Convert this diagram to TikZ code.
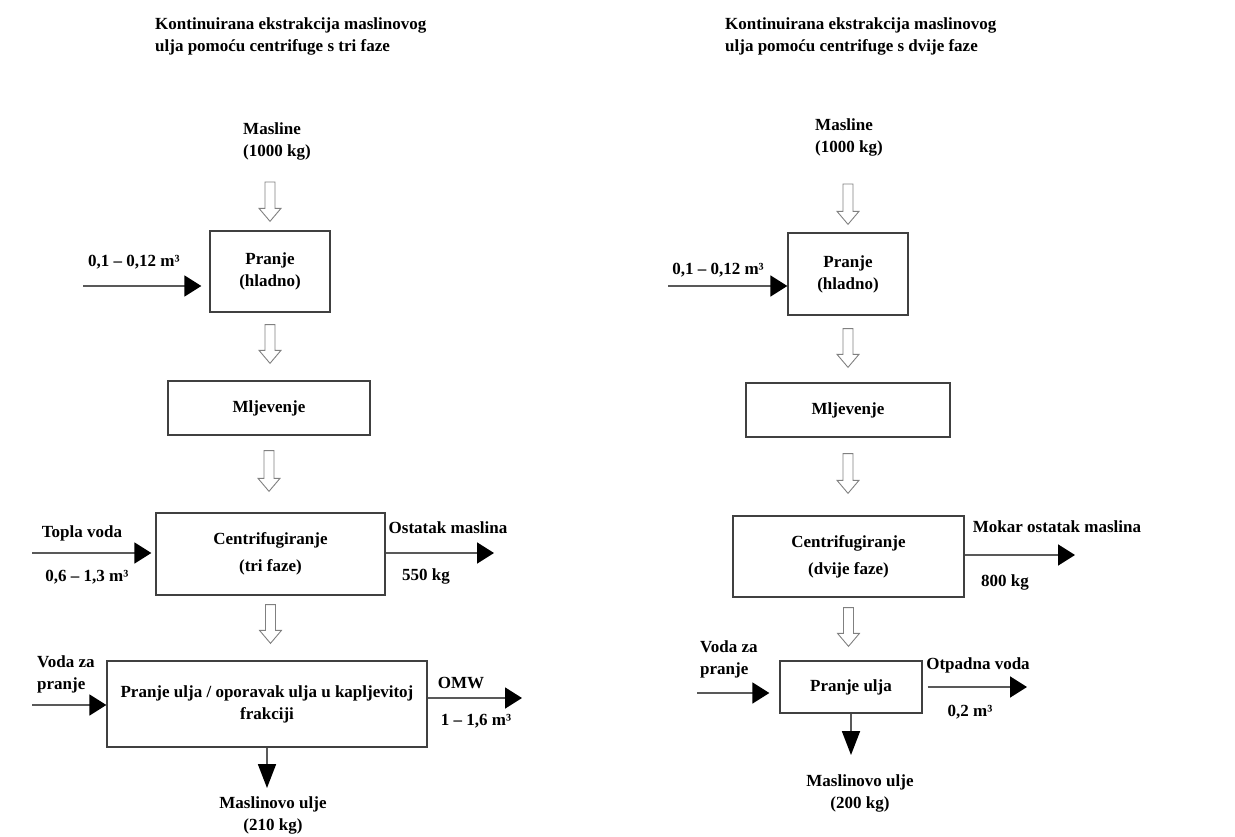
\documentclass[tikz,border=0pt]{standalone}
\usepackage{fontspec}
\setmainfont{Liberation Serif}
\usetikzlibrary{arrows.meta,calc}

\begin{document}
\begin{tikzpicture}[x=1pt,y=-1pt,
    every node/.style={font=\fontsize{17}{22}\selectfont\bfseries, inner sep=0pt},
    box/.style={draw=black!75, line width=1.3pt, align=center},
    flow/.style={draw=black!65, line width=1.8pt, -{Triangle[length=17pt,width=21pt,black]}},
    flowdown/.style={draw=black!65, line width=1.8pt, -{Triangle[length=24pt,width=18pt,black]}},
    hollow/.style={draw=black!50, line width=0.9pt, fill=white,
      to path={($(\tikztostart)+(-5,0)$) -- ($(\tikztotarget)+(-5,-13)$) -- ($(\tikztotarget)+(-11,-13)$)
        -- (\tikztotarget) -- ($(\tikztotarget)+(11,-13)$) -- ($(\tikztotarget)+(5,-13)$) -- ($(\tikztostart)+(5,0)$) -- cycle}}]
  \useasboundingbox (0,0) rectangle (1235,837);

  % three phase (left)
  \node[anchor=west, align=left] (titL) at (155,36) {Kontinuirana ekstrakcija maslinovog\\ulja pomoću centrifuge s tri faze};
  \node[anchor=west, align=left] (masL) at (243,141) {Masline\\(1000 kg)};
  \node[box, minimum width=120pt, minimum height=81pt] (praL) at (270,271.5) {Pranje\\(hladno)};
  \node[box, minimum width=202pt, minimum height=54pt] (mljL) at (269,408) {Mljevenje};
  \node[box, minimum width=229pt, minimum height=82pt] (cenL) at (270.5,554) {Centrifugiranje\\[5pt](tri faze)};
  \node[box, minimum width=320pt, minimum height=86pt] (uljL) at (267,704) {Pranje ulja / oporavak ulja u kapljevitoj\\frakciji};

  \node (vodL) at (134,262) {0,1 – 0,12 m³};
  \node (topla) at (82,533) {Topla voda};
  \node (toplaQ) at (87,577) {0,6 – 1,3 m³};
  \node (ostL) at (448,528) {Ostatak maslina};
  \node (ostQ) at (426,576) {550 kg};
  \node[anchor=west, align=left] (pranjeL) at (37,674) {Voda za\\pranje};
  \node (omw) at (461,683) {OMW};
  \node (omwQ) at (476,721) {1 – 1,6 m³};
  \node[align=center] (oilL) at (273,815) {Maslinovo ulje\\(210 kg)};

  \coordinate (inL1) at (83,286);
  \coordinate (inL2) at (32,553);
  \coordinate (outL2) at (494,553);
  \coordinate (inL3) at (32,705);
  \coordinate (outL3) at (522,698);

  \draw[flow, shorten >=8pt] (inL1) -- (inL1 -| praL.west);
  \draw[flow, shorten >=4pt] (inL2) -- (inL2 -| cenL.west);
  \draw[flow] (outL2 -| cenL.east) -- (outL2);
  \draw[flow] (inL3) -- (inL3 -| uljL.west);
  \draw[flow] (outL3 -| uljL.east) -- (outL3);
  \draw[flowdown, shorten >=8pt] (uljL.south) -- (uljL.south |- oilL.north);

  \coordinate (hL1a) at ($(masL.south -| praL.north)+(0,22)$);
  \coordinate (hL1b) at ($(praL.north)+(0,-9)$);
  \coordinate (hL2a) at ($(praL.south)+(0,12)$);
  \coordinate (hL2b) at ($(praL.south |- mljL.north)+(0,-17)$);
  \coordinate (hL3a) at ($(mljL.south)+(0,15)$);
  \coordinate (hL3b) at ($(mljL.south |- cenL.north)+(0,-21)$);
  \coordinate (hL4a) at ($(cenL.south)+(0,9)$);
  \coordinate (hL4b) at ($(cenL.south |- uljL.north)+(0,-17)$);
  \draw[hollow] (hL1a) to (hL1b);
  \draw[hollow] (hL2a) to (hL2b);
  \draw[hollow] (hL3a) to (hL3b);
  \draw[hollow] (hL4a) to (hL4b);

  % two phase (right)
  \node[anchor=west, align=left] (titR) at (725,36) {Kontinuirana ekstrakcija maslinovog\\ulja pomoću centrifuge s dvije faze};
  \node[anchor=west, align=left] (masR) at (815,137) {Masline\\(1000 kg)};
  \node[box, minimum width=120pt, minimum height=82pt] (praR) at (848,274) {Pranje\\(hladno)};
  \node[box, minimum width=204pt, minimum height=54pt] (mljR) at (848,410) {Mljevenje};
  \node[box, minimum width=231pt, minimum height=81pt] (cenR) at (848.5,556.5) {Centrifugiranje\\[5pt](dvije faze)};
  \node[box, minimum width=142pt, minimum height=52pt] (uljR) at (851,687) {Pranje ulja};

  \node (vodR) at (718,270) {0,1 – 0,12 m³};
  \node (mokar) at (1057,527) {Mokar ostatak maslina};
  \node (mokarQ) at (1005,582) {800 kg};
  \node[anchor=west, align=left] (pranjeR) at (700,659) {Voda za\\pranje};
  \node (otp) at (978,665) {Otpadna voda};
  \node (otpQ) at (970,712) {0,2 m³};
  \node[align=center] (oilR) at (860,793) {Maslinovo ulje\\(200 kg)};

  \coordinate (inR1) at (668,286);
  \coordinate (outR2) at (1075,555);
  \coordinate (inR3) at (697,693);
  \coordinate (outR3) at (1027,687);

  \draw[flow] (inR1) -- (inR1 -| praR.west);
  \draw[flow] (outR2 -| cenR.east) -- (outR2);
  \draw[flow, shorten >=10pt] (inR3) -- (inR3 -| uljR.west);
  \draw[flow, shorten <=5pt] (outR3 -| uljR.east) -- (outR3);
  \draw[flowdown, shorten >=19pt] (uljR.south) -- (uljR.south |- oilR.north);

  \coordinate (hR1a) at ($(masR.south -| praR.north)+(0,28)$);
  \coordinate (hR1b) at ($(praR.north)+(0,-8)$);
  \coordinate (hR2a) at ($(praR.south)+(0,13)$);
  \coordinate (hR2b) at ($(praR.south |- mljR.north)+(0,-15)$);
  \coordinate (hR3a) at ($(mljR.south)+(0,16)$);
  \coordinate (hR3b) at ($(mljR.south |- cenR.north)+(0,-22)$);
  \coordinate (hR4a) at ($(cenR.south)+(0,10)$);
  \coordinate (hR4b) at ($(cenR.south |- uljR.north)+(0,-14)$);
  \draw[hollow] (hR1a) to (hR1b);
  \draw[hollow] (hR2a) to (hR2b);
  \draw[hollow] (hR3a) to (hR3b);
  \draw[hollow] (hR4a) to (hR4b);
\end{tikzpicture}
\end{document}
